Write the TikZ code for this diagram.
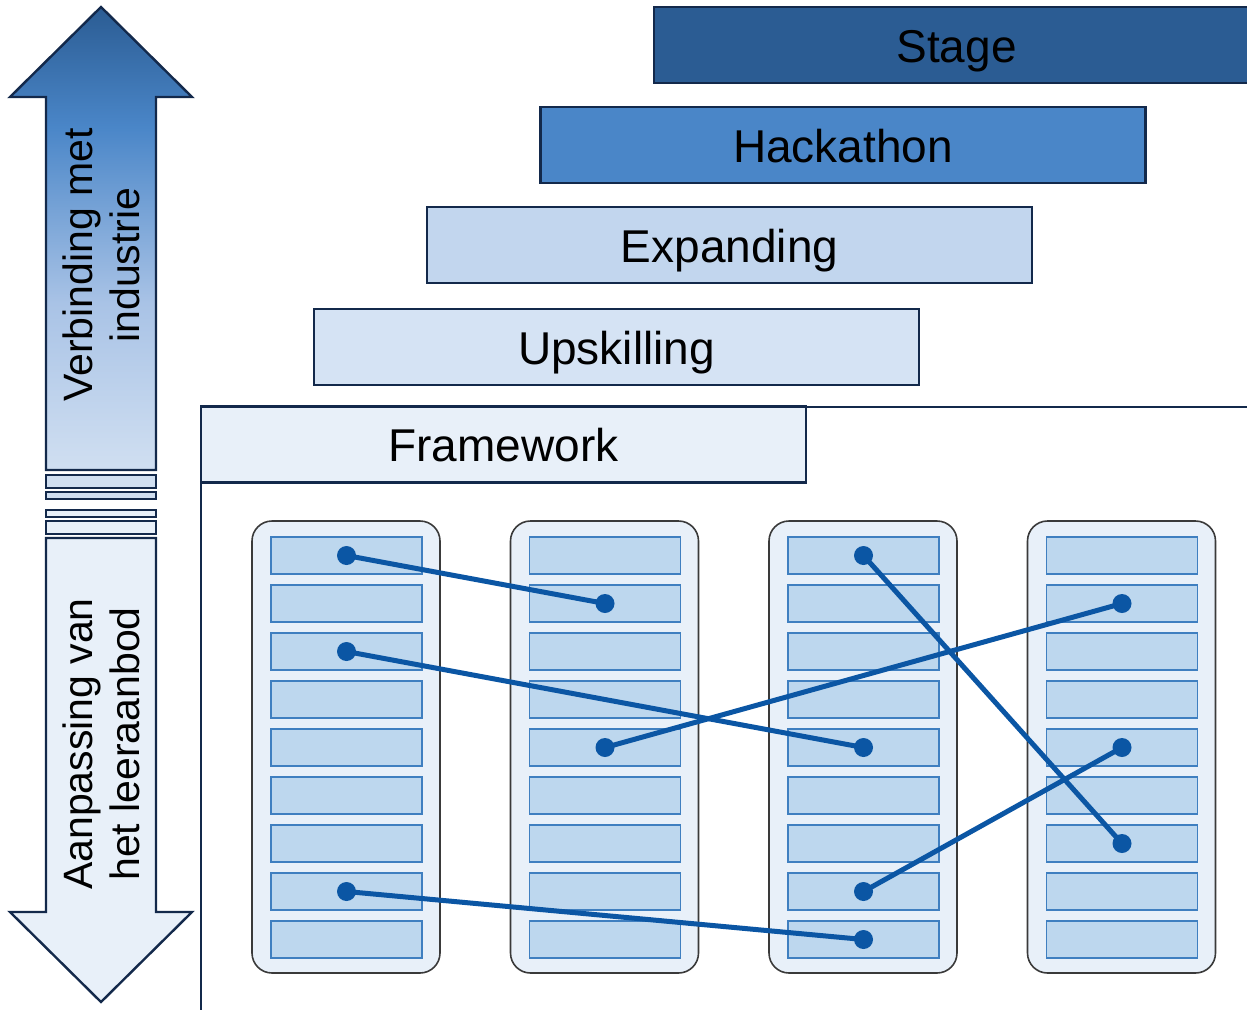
\documentclass[tikz,border=0pt]{standalone}
\usepackage{fontspec}
\setmainfont{Liberation Sans}
\definecolor{navy}{HTML}{13294B}
\definecolor{stagecol}{HTML}{2B5C93}
\definecolor{hackcol}{HTML}{4A86C8}
\definecolor{expandcol}{HTML}{C2D6EE}
\definecolor{upskillcol}{HTML}{D5E3F4}
\definecolor{paleblue}{HTML}{E8F0F9}
\definecolor{fadelight}{HTML}{D0DFF1}
\definecolor{fademid}{HTML}{A9C3E6}
\definecolor{lanedraw}{HTML}{3A3A3A}
\definecolor{slotfill}{HTML}{BDD7EE}
\definecolor{slotdraw}{HTML}{3F7FC0}
\definecolor{linkcol}{HTML}{0B56A4}
\pgfdeclareverticalshading{upfade}{100bp}{color(0bp)=(fadelight); color(25bp)=(fadelight); color(43bp)=(fademid); color(62bp)=(hackcol); color(75bp)=(stagecol); color(100bp)=(stagecol)}

\begin{document}
\begin{tikzpicture}[x=1pt, y=-1pt,
    level/.style = {draw=navy, line width=2.4pt, minimum width=605pt, minimum height=76pt, inner sep=0pt, text height=36pt, text depth=2pt, font=\fontsize{46}{55}\selectfont},
    bar/.style = {draw=navy, line width=2.4pt},
    lane/.style = {draw=lanedraw, fill=paleblue, line width=1.6pt, rounded corners=20pt, minimum width=188pt, minimum height=452pt, inner sep=0pt},
    slot/.style = {draw=slotdraw, fill=slotfill, line width=1.6pt, minimum width=151pt, minimum height=37pt, inner sep=0pt},
    link/.style = {draw=linkcol, line width=5pt},
    side/.style = {rotate=90, align=center, font=\fontsize{41}{47}\selectfont}]
  \useasboundingbox (0,0) rectangle (1247,1009);
  \clip (0,0) rectangle (1247,1009);

  % left arrow
  \shadedraw[shading=upfade, bar] (46,470) -- (46,97) -- (10,97) -- (101,7) -- (192,97) -- (156,97) -- (156,470) -- cycle;
  \draw[bar, fill=fadelight] (46,475) rectangle (156,488);
  \draw[bar, fill=fadelight] (46,492) rectangle (156,499);
  \draw[bar, fill=paleblue] (46,510) rectangle (156,517);
  \draw[bar, fill=paleblue] (46,521) rectangle (156,534);
  \draw[bar, fill=paleblue] (46,538) -- (46,912) -- (10,912) -- (101,1002) -- (192,912) -- (156,912) -- (156,538) -- cycle;
  \node[side] (up) at (101,265) {Verbinding met\\industrie};
  \node[side] (down) at (101,744) {Aanpassing van\\het leeraanbod};

  % levels
  \draw[bar] (201,1015) -- (201,407) -- (1260,407);
  \node[level, fill=stagecol] (stage) at (956.5,45) {Stage};
  \node[level, fill=hackcol] (hack) at (843,145) {Hackathon};
  \node[level, fill=expandcol] (expand) at (729.5,245) {Expanding};
  \node[level, fill=upskillcol] (upskill) at (616.5,347) {Upskilling};
  \node[level, fill=paleblue] (frame) at (503.5,444.5) {Framework};

  % lanes
  \foreach \c in {1,...,4} {
    \node[lane] (lane\c) at ({346+(\c-1)*258.5},747) {};
    \foreach \r in {1,...,9}
      \node[slot] (s\c\r) at ({346.5+(\c-1)*258.5},{555.5+(\r-1)*48}) {};
  }
  \foreach \a/\b in {s11/s22, s13/s35, s18/s39, s31/s47, s25/s42, s38/s45} {
    \draw[link] (\a.center) -- (\b.center);
    \fill[linkcol] (\a.center) circle[radius=9.5pt] (\b.center) circle[radius=9.5pt];
  }
\end{tikzpicture}
\end{document}
